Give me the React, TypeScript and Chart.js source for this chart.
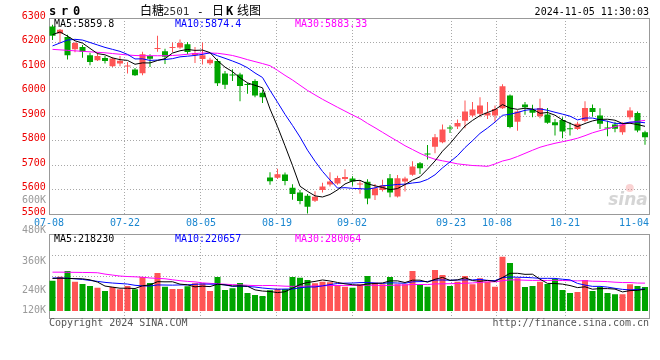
import React, { useEffect, useRef } from "react";
import { Chart, registerables } from "chart.js";

Chart.register(...registerables);

// ---------- data ----------
const dates = [
  "07-08","07-09","07-10","07-11","07-12","07-15","07-16","07-17","07-18","07-19",
  "07-22","07-23","07-24","07-25","07-26","07-29","07-30","07-31","08-01","08-02",
  "08-05","08-06","08-07","08-08","08-09","08-12","08-13","08-14","08-15","08-16",
  "08-19","08-20","08-21","08-22","08-23","08-26","08-27","08-28","08-29","08-30",
  "09-02","09-03","09-04","09-05","09-06","09-09","09-10","09-11","09-12","09-13",
  "09-18","09-19","09-20","09-23","09-24","09-25","09-26","09-27","09-30","10-08",
  "10-09","10-10","10-11","10-14","10-15","10-16","10-17","10-18","10-21","10-22",
  "10-23","10-24","10-25","10-28","10-29","10-30","10-31","11-01","11-04","11-05",
];

const openP = [
  6265,6237,6222,6172,6182,6148,6128,6137,6103,6114,
  6102,6090,6074,6145,6173,6164,6178,6180,6193,6149,
  6133,6115,6125,6073,6068,6069,6030,6043,5995,5649,
  5648,5661,5607,5588,5575,5554,5598,5620,5625,5643,
  5645,5620,5632,5577,5598,5646,5571,5633,5660,5707,
  5746,5775,5793,5852,5857,5881,5902,5909,5902,5902,
  5932,5984,5877,5947,5925,5899,5906,5875,5884,5849,
  5847,5881,5933,5902,5852,5865,5834,5895,5912,5834,
];
const highP = [
  6272,6255,6232,6203,6190,6158,6160,6145,6140,6145,
  6120,6096,6162,6152,6228,6175,6200,6212,6202,6182,
  6200,6138,6134,6084,6091,6077,6036,6050,6005,5670,
  5685,5669,5621,5598,5582,5593,5628,5670,5656,5683,
  5654,5636,5642,5622,5640,5663,5659,5652,5715,5712,
  5782,5827,5865,5862,5886,5963,5957,5977,5957,5943,
  6030,5988,5923,5957,5946,5970,5933,5888,5895,5875,
  5877,5960,5947,5932,5881,5877,5875,5936,5918,5840,
];
const lowP = [
  6210,6198,6131,6160,6138,6107,6125,6114,6100,6103,
  6073,6063,6066,6100,6162,6112,6160,6175,6152,6116,
  6110,6108,6022,6010,6043,5960,5991,5977,5953,5619,
  5643,5617,5558,5540,5502,5549,5588,5612,5619,5635,
  5615,5583,5540,5557,5592,5568,5567,5592,5656,5663,
  5722,5748,5789,5831,5847,5850,5895,5895,5888,5877,
  5929,5850,5840,5905,5895,5891,5868,5820,5809,5820,
  5843,5875,5898,5847,5817,5834,5823,5886,5834,5783,
];
const closeP = [
  6228,6252,6148,6198,6162,6120,6145,6124,6135,6126,
  6105,6066,6152,6134,6176,6142,6181,6198,6161,6157,
  6148,6130,6034,6028,6065,6022,6027,5984,5977,5634,
  5662,5635,5582,5553,5530,5570,5612,5633,5647,5651,
  5633,5623,5563,5605,5617,5588,5646,5645,5694,5687,
  5743,5813,5845,5849,5871,5918,5927,5943,5913,5929,
  6021,5855,5918,5936,5913,5933,5872,5862,5837,5846,
  5868,5933,5916,5868,5849,5848,5865,5922,5841,5813,
];

const ma5 = [
  6232,6243,6226,6207,6197.6,6176,6154.6,6149.8,6137.2,6130,
  6127,6111.2,6116.8,6116.6,6126.6,6134,6157,6166.2,6171.6,6167.8,
  6169,6158.8,6126,6099.4,6081,6055.8,6035.2,6025.2,6015,5928.8,
  5856.8,5778.4,5698,5613.2,5592.4,5574,5569.4,5579.6,5598.4,5622.6,
  5635.2,5637.4,5623.4,5615,5608.2,5599.2,5603.8,5620.2,5638,5652,
  5683,5716.4,5756.4,5787.4,5824.2,5859.2,5882,5901.6,5914.4,5926,
  5946.6,5932.2,5927.2,5931.8,5928.6,5911,5914.4,5903.2,5883.4,5870,
  5857,5869.2,5880,5886.2,5886.8,5882.8,5869.2,5870.4,5865,5857.8,
];
const ma10 = [
  6186,6198,6210,6213,6210,6200,6190,6180,6172,6163.8,
  6151.5,6132.9,6133.3,6126.9,6128.3,6130.5,6134.1,6141.5,6144.1,6147.2,
  6151.5,6157.9,6146.1,6135.5,6124.4,6112.4,6097,6075.6,6057.2,6004.9,
  5956.3,5906.8,5861.6,5814.1,5760.6,5715.4,5673.9,5638.8,5605.8,5607.5,
  5604.6,5603.4,5601.5,5606.7,5615.4,5617.2,5620.6,5621.8,5626.5,5630.1,
  5641.1,5660.1,5688.3,5712.7,5738.1,5771.1,5799.2,5829,5850.9,5875.1,
  5902.9,5907.1,5914.4,5923.1,5927.3,5928.8,5923.3,5915.2,5907.6,5899.3,
  5884,5891.8,5891.6,5884.8,5878.4,5869.9,5869.2,5875.2,5875.6,5872.3,
];
const ma30 = [
  6172,6170,6168,6166,6164,6162,6160,6158,6155,6152,
  6149,6147,6146,6146,6146,6146,6147,6149,6152,6155,
  6157,6157,6156,6152,6147,6139,6130,6122,6114,6105.3,
  6086.4,6065.9,6047,6025.5,6004.4,5986.1,5968.3,5952,5935.7,5919.9,
  5904.1,5889.4,5869.7,5852.1,5833.5,5815,5797.2,5778.7,5763.2,5747.5,
  5734,5723.4,5717.1,5711.2,5704.7,5701.2,5697.9,5696.5,5694.4,5704.2,
  5716.2,5723.5,5734.7,5747.5,5760.3,5772.4,5781,5788.7,5795,5801.5,
  5809.3,5819.7,5831.4,5840.2,5847.9,5856.6,5863.9,5873.1,5878,5882.2,
];

// volume, thousand lots
const volK = [
  312,353,412,302,278,258,240,206,247,223,
  258,223,350,288,391,250,227,227,254,285,
  285,206,350,216,234,288,185,165,155,213,
  230,227,350,343,319,285,302,295,268,250,
  240,275,360,292,275,350,275,275,412,275,
  250,422,371,258,302,360,275,337,302,250,
  559,494,337,247,258,302,278,330,216,185,
  196,319,206,247,185,172,172,275,258,247,
];
const vma5 = [
  335,338,336,333,331.4,320.6,298,256.8,245.8,234.8,
  234.8,231.4,260.2,268.4,302,300.4,301.2,276.6,269.8,248.6,
  255.6,251.4,276,268.4,258.2,258.8,254.6,217.6,205.4,201.2,
  189.6,198,235,272.6,293.8,304.8,319.8,308.8,293.8,280,
  271,265.6,278.6,283.4,288.4,310.4,310.4,293.4,317.4,317.4,
  297.4,326.8,346,315.2,320.6,342.6,313.2,306.4,315.2,304.8,
  344.6,388.4,388.4,377.4,379,327.6,284.4,283,276.8,262.2,
  241,249.2,224.4,230.6,230.6,225.8,196.4,210.2,212.4,224.8,
];
const vma10 = [
  340,340,338,332,325,315,305,295,288,283.1,
  277.7,264.7,258.5,257.1,268.4,267.6,266.3,268.4,269.1,275.3,
  278,276.3,276.3,269.1,253.4,257.2,253,246.8,236.9,229.7,
  224.2,226.3,226.3,239,247.5,247.2,258.9,271.9,283.2,286.9,
  287.9,292.7,293.7,288.6,284.2,290.7,288,286,300.4,302.9,
  303.9,318.6,319.7,316.3,319,320,320,326.2,315.2,312.7,
  343.6,350.8,347.4,346.3,341.9,336.1,336.4,335.7,327.1,320.6,
  284.3,266.8,253.7,253.7,246.4,233.4,222.8,217.3,221.5,227.7,
];
const vma30 = [
  400,400,399,398,397,396,394,380,370,360,
  355,352,348,340,336,332,322,312,305,300,
  290,285,280,276,272,268,265,262,262,262.7,
  260,255.8,253.7,255.1,256.4,257.3,259.4,262.4,263.1,264,
  263.4,265.1,265.4,265.6,261.7,265,266.6,268.2,273.5,273.2,
  272,279.2,279.9,281.3,283.6,286,289,294.7,299.6,300.8,
  311.8,320.7,320.3,317.1,315,315.6,314.8,316,314.2,312.1,
  310.6,312.1,306.9,305.4,302.4,296.5,293.1,293.1,287.9,287,
];

const axisDates = ["07-08","07-22","08-05","08-19","09-02","09-23","10-08","10-21","11-04"];
const priceMin = 5500;
const priceMax = 6300;
const priceStep = 100;
const volAxisMin = -72;
const volAxisMax = 793;
const volTickLabels = ["600K","480K","360K","240K","120K"];

const symbol = "sr0";
const timeStamp = "2024-11-05 11:30:03";
const priceLegend = ["MA5:5859.8", "MA10:5874.4", "MA30:5883.33"];
const volLegend = ["MA5:218230", "MA10:220657", "MA30:280064"];
const copyright = "Copyright 2024 SINA.COM";
const siteUrl = "http://finance.sina.com.cn";

// ---------- styles ----------
const RED = "#fe5555";
const GREEN = "#00a400";
const BLUE = "#0000ff";
const MAGENTA = "#ff00ff";
const GRID = "#a8a8a8";
const FRAME = "#999999";
const MONO = '"DejaVu Sans Mono", "Liberation Mono", monospace';
const CJK = '"Noto Sans CJK SC", sans-serif';
const AXIS_W = 48.75;

const candleColor = closeP.map((c, i) => (c >= openP[i] ? RED : GREEN));
const gridIdx = axisDates.slice(1, -1).map((d) => dates.indexOf(d));

const framePlugin = {
  id: "frame",
  beforeDatasetsDraw(chart: any) {
    const { ctx, chartArea: a } = chart;
    ctx.save();
    ctx.strokeStyle = FRAME;
    ctx.lineWidth = 1;
    ctx.strokeRect(
      Math.round(a.left) + 0.5,
      Math.round(a.top) + 0.5,
      Math.round(a.right - a.left),
      Math.round(a.bottom - a.top)
    );
    ctx.restore();
  },
};

const priceDecor = {
  id: "priceDecor",
  beforeDatasetsDraw(chart: any) {
    const { ctx, chartArea: a } = chart;
    ctx.save();
    ctx.globalAlpha = 0.35;
    ctx.fillStyle = "#f08080";
    ctx.beginPath();
    ctx.arc(a.right - 19, a.bottom - 26, 4, 0, Math.PI * 2);
    ctx.fill();
    ctx.fillStyle = "#888";
    ctx.font = `italic bold 17px "DejaVu Sans", sans-serif`;
    ctx.textAlign = "right";
    ctx.fillText("sina", a.right - 1, a.bottom - 9);
    ctx.restore();
  },
  afterDraw(chart: any) {
    const { ctx, chartArea: a } = chart;
    const L = Math.round(a.left);
    ctx.save();
    ctx.textBaseline = "alphabetic";
    ctx.textAlign = "left";
    ctx.fillStyle = "#000";
    ctx.font = `bold 12px ${MONO}`;
    symbol.split("").forEach((ch, k) => ctx.fillText(ch, L + k * 12, 15));
    ctx.font = `12px ${CJK}`;
    ctx.fillText("白糖", 140, 15);
    ctx.font = `11px ${MONO}`;
    ctx.fillStyle = "#333";
    ctx.fillText("2501", 163, 15);
    ctx.fillStyle = "#000";
    ctx.fillText("-", 197, 15);
    ctx.font = `12px ${CJK}`;
    ctx.fillText("日", 212, 15);
    ctx.font = `bold 12px ${MONO}`;
    ctx.fillText("K", 226, 15);
    ctx.font = `12px ${CJK}`;
    ctx.fillText("线", 237, 15);
    ctx.fillText("图", 249, 15);
    ctx.font = `10px ${MONO}`;
    ctx.textAlign = "right";
    ctx.fillText(timeStamp, Math.round(a.right), 15);
    ctx.textAlign = "left";
    ctx.fillStyle = "#000";
    ctx.fillText(priceLegend[0], L + 5, a.top + 9);
    ctx.fillStyle = BLUE;
    ctx.fillText(priceLegend[1], L + 126, a.top + 9);
    ctx.fillStyle = MAGENTA;
    ctx.fillText(priceLegend[2], L + 246, a.top + 9);
    const xs = chart.scales.xg;
    ctx.fillStyle = "#1a86d0";
    axisDates.forEach((d) => {
      const w = ctx.measureText(d).width;
      let cx = xs.getPixelForValue(dates.indexOf(d));
      cx = Math.min(cx, a.right - w / 2);
      ctx.fillText(d, Math.round(cx - w / 2), a.bottom + 12);
    });
    ctx.restore();
  },
};

const volDecor = {
  id: "volDecor",
  afterDraw(chart: any) {
    const { ctx, chartArea: a } = chart;
    const L = Math.round(a.left);
    ctx.save();
    ctx.font = `10px ${MONO}`;
    ctx.textBaseline = "alphabetic";
    ctx.textAlign = "left";
    ctx.fillStyle = "#000";
    ctx.fillText(volLegend[0], L + 5, a.top + 8);
    ctx.fillStyle = BLUE;
    ctx.fillText(volLegend[1], L + 126, a.top + 8);
    ctx.fillStyle = MAGENTA;
    ctx.fillText(volLegend[2], L + 246, a.top + 8);
    const offs = [-33.3, -3.7, 27, 56.3, 76.3];
    ctx.fillStyle = "#9a9a9a";
    ctx.textAlign = "right";
    ctx.textBaseline = "middle";
    volTickLabels.forEach((t, k) => ctx.fillText(t, L - 3, a.top + offs[k]));
    ctx.textBaseline = "alphabetic";
    ctx.fillStyle = "#555";
    ctx.textAlign = "left";
    ctx.fillText(copyright, L, a.bottom + 8);
    ctx.textAlign = "right";
    ctx.fillText(siteUrl, Math.round(a.right), a.bottom + 8);
    ctx.restore();
  },
};

const makeXg = () => ({
  type: "linear",
  position: "bottom",
  min: 0,
  max: dates.length - 1,
  offset: false,
  bounds: "data",
  afterBuildTicks: (s: any) => {
    s.ticks = gridIdx.map((v) => ({ value: v }));
  },
  afterFit: (s: any) => {
    s.height = 0;
  },
  ticks: { display: false },
  grid: { color: GRID, drawTicks: false, lineWidth: 1, offset: false },
  border: { display: false, dash: [1, 2] },
});

const lineDs = (label: string, data: number[], color: string, yAxisID: string) => ({
  type: "line",
  label,
  data,
  borderColor: color,
  backgroundColor: color,
  borderWidth: 1,
  pointRadius: 0,
  tension: 0,
  order: 0,
  xAxisID: "x",
  yAxisID,
});

export default function App() {
  const priceRef = useRef<HTMLCanvasElement>(null);
  const volRef = useRef<HTMLCanvasElement>(null);

  useEffect(() => {
    Chart.defaults.font.family = MONO;
    const c1 = new Chart(priceRef.current as HTMLCanvasElement, {
      type: "bar",
      data: {
        labels: dates,
        datasets: [
          lineDs("MA5", ma5, "#000", "y"),
          lineDs("MA10", ma10, BLUE, "y"),
          lineDs("MA30", ma30, MAGENTA, "y"),
          {
            type: "bar",
            label: "body",
            data: openP.map((o, i) => [o, closeP[i]]),
            backgroundColor: candleColor,
            borderWidth: 0,
            barThickness: 6,
            minBarLength: 1,
            grouped: false,
            inflateAmount: 0,
            order: 1,
            xAxisID: "x",
            yAxisID: "y",
          },
          {
            type: "bar",
            label: "wick",
            data: lowP.map((l, i) => [l, highP[i]]),
            backgroundColor: candleColor,
            borderWidth: 0,
            barThickness: 1,
            grouped: false,
            inflateAmount: 0,
            order: 2,
            xAxisID: "x",
            yAxisID: "y",
          },
        ] as any,
      },
      options: {
        responsive: false,
        animation: false,
        events: [],
        layout: { padding: { left: 0, right: 11.25, top: 18, bottom: 146 } },
        plugins: { legend: { display: false }, tooltip: { enabled: false } },
        scales: {
          x: { type: "category", display: false, offset: true },
          xg: makeXg() as any,
          y: {
            type: "linear",
            position: "left",
            min: priceMin,
            max: priceMax,
            afterFit: (s: any) => {
              s.width = AXIS_W;
            },
            ticks: {
              stepSize: priceStep,
              color: "#ee0000",
              font: { family: MONO, size: 10 },
              padding: 3,
              labelOffset: -2,
              callback: (v: any) => String(v),
            },
            grid: { color: GRID, drawTicks: false, lineWidth: 1 },
            border: { display: false, dash: [1, 2] },
          },
        },
      } as any,
      plugins: [framePlugin, priceDecor],
    });

    const c2 = new Chart(volRef.current as HTMLCanvasElement, {
      type: "bar",
      data: {
        labels: dates,
        datasets: [
          lineDs("VMA5", vma5, "#000", "yv"),
          lineDs("VMA10", vma10, BLUE, "yv"),
          lineDs("VMA30", vma30, MAGENTA, "yv"),
          {
            type: "bar",
            label: "volume",
            data: volK,
            backgroundColor: candleColor,
            borderWidth: 0,
            barThickness: 6,
            grouped: false,
            inflateAmount: 0,
            order: 1,
            xAxisID: "x",
            yAxisID: "yv",
          },
        ] as any,
      },
      options: {
        responsive: false,
        animation: false,
        events: [],
        layout: { padding: { left: 0, right: 11.25, top: 234, bottom: 42 } },
        plugins: { legend: { display: false }, tooltip: { enabled: false } },
        scales: {
          x: { type: "category", display: false, offset: true },
          xg: makeXg() as any,
          yv: { type: "linear", display: false, min: volAxisMin, max: volAxisMax },
          yg: {
            type: "linear",
            position: "left",
            min: 0,
            max: 4,
            afterFit: (s: any) => {
              s.width = AXIS_W;
            },
            ticks: { display: false, stepSize: 1 },
            grid: { color: GRID, drawTicks: false, lineWidth: 1 },
            border: { display: false, dash: [1, 2] },
          },
        },
      } as any,
      plugins: [framePlugin, volDecor],
    });

    return () => {
      c1.destroy();
      c2.destroy();
    };
  }, []);

  return (
    <div style={{ position: "fixed", left: 0, top: 0, width: 660, height: 360, background: "#fff" }}>
      <canvas ref={priceRef} width={660} height={360} style={{ position: "absolute", left: 0, top: 0 }} />
      <canvas ref={volRef} width={660} height={360} style={{ position: "absolute", left: 0, top: 0 }} />
    </div>
  );
}
